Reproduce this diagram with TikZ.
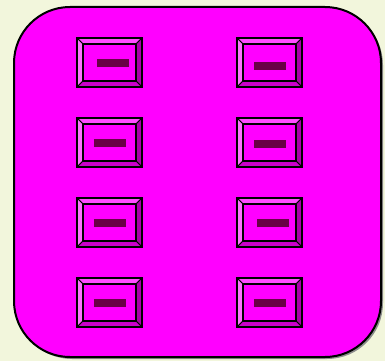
\documentclass[tikz,border=0pt]{standalone}
\begin{document}
\begin{tikzpicture}[x=1pt, y=-1pt, line join=miter]
  \definecolor{panelBack}{HTML}{F2F6DC}
  \definecolor{panelFace}{HTML}{FF00FF}
  \definecolor{bevelTop}{HTML}{FF4CFF}
  \definecolor{bevelLeft}{HTML}{FF70FF}
  \definecolor{bevelRight}{HTML}{A800A8}
  \definecolor{bevelBottom}{HTML}{CC00CC}
  \definecolor{barShade}{HTML}{6A0046}
  \tikzset{
    keybox/.style={rectangle, inner sep=0pt, outer sep=0pt,
      minimum width=65pt, minimum height=49pt, fill=panelFace},
    keybar/.style={rectangle, inner sep=0pt, outer sep=0pt,
      minimum width=32pt, minimum height=8pt, fill=barShade}
  }
  \useasboundingbox[fill=panelBack] (0,0) rectangle (385,361);
  % panel with its shadow
  \fill[black!45, rounded corners=56pt] (16,9) rectangle (383,359);
  \draw[panelFace, fill=panelFace, rounded corners=56pt, draw=black, line width=2pt]
    (14,7) rectangle (381,357);
  % keys: name / left / top / bar offset x / bar offset y
  \foreach \name/\xa/\ya/\dx/\dy in {
    keyA/77/38/20/21, keyB/237/38/17/24,
    keyC/77/118/17/21, keyD/237/118/17/22,
    keyE/77/198/17/21, keyF/237/198/20/21,
    keyG/77/278/17/21, keyH/237/278/17/21}{
    \node[keybox] (\name) at ({\xa+32.5},{\ya+24.5}) {};
    \coordinate (\name-a) at ([shift={(6,6)}]\name.north west);
    \coordinate (\name-b) at ([shift={(-6,6)}]\name.north east);
    \coordinate (\name-c) at ([shift={(-6,-6)}]\name.south east);
    \coordinate (\name-d) at ([shift={(6,-6)}]\name.south west);
    \path[fill=bevelTop, draw=black, line width=0.8pt]
      (\name.north west) -- (\name.north east) -- (\name-b) -- (\name-a) -- cycle;
    \path[fill=bevelLeft, draw=black, line width=0.8pt]
      (\name.north west) -- (\name-a) -- (\name-d) -- (\name.south west) -- cycle;
    \path[fill=bevelRight, draw=black, line width=0.8pt]
      (\name.north east) -- (\name.south east) -- (\name-c) -- (\name-b) -- cycle;
    \path[fill=bevelBottom, draw=black, line width=0.8pt]
      (\name.south west) -- (\name.south east) -- (\name-c) -- (\name-d) -- cycle;
    \draw[black, line width=1.6pt] (\name-a) rectangle (\name-c);
    \draw[black, line width=2.2pt] (\name.north west) rectangle (\name.south east);
    \node[keybar] (\name-bar) at ({\xa+\dx+16},{\ya+\dy+4}) {};
  }
\end{tikzpicture}
\end{document}
